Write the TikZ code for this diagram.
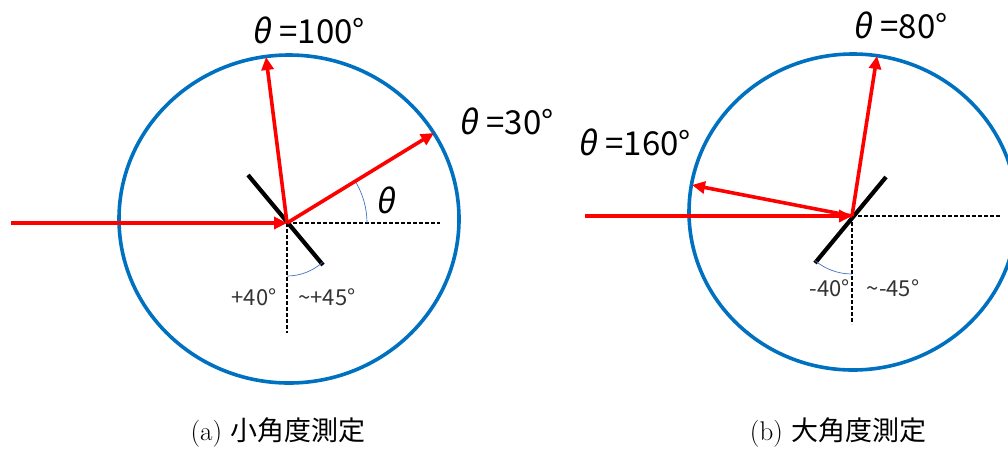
\documentclass[tikz,border=0pt]{standalone}
\usepackage{fontspec}
\newfontfamily\jp{Noto Sans CJK JP}
\newfontfamily\jpsl{Noto Sans CJK JP}[FakeSlant=0.18]
\usetikzlibrary{arrows.meta}
\definecolor{cblue}{HTML}{0070C0}
\definecolor{arcblue}{HTML}{4472C4}
\definecolor{beamred}{HTML}{FF0000}
\newcommand{\thsym}{{\jpsl θ}}
\newcommand{\wavetilde}{\char"007E\relax}
\tikzset{
  ring/.style={draw=cblue, line width=3.6pt},
  beam/.style={draw=beamred, line width=3.6pt, -{Triangle[length=13pt,width=12pt]}},
  mirror/.style={draw=black, line width=4.2pt},
  guide/.style={draw=black, line width=1.2pt, dash pattern=on 3.5pt off 2.5pt},
  anglearc/.style={draw=arcblue, line width=0.7pt},
  biglabel/.style={font=\jp\fontsize{33}{36}\selectfont, inner sep=0pt},
  smalllabel/.style={font=\jp\fontsize{22}{24}\selectfont, text=black!80, inner sep=0pt},
  caption/.style={font=\fontsize{27}{30}\selectfont, inner sep=0pt},
}
\begin{document}
\begin{tikzpicture}[x=1pt,y=-1pt]
\useasboundingbox (0,0) rectangle (1008,448);
\clip (0,0) rectangle (1008,448);
% ---------- (a) ----------
\coordinate (Ca) at (289,219);
\coordinate (Oa) at (287,223);
\coordinate (Sa) at (11,223);
\coordinate (Pa30) at (434,133);
\coordinate (Pa100) at (266,57);
\coordinate (Ma1) at (248,175);
\coordinate (Ma2) at (323,265);
\coordinate (Ha) at (440,223);
\coordinate (Va) at (287,333);
\draw[ring] (Ca) ellipse[x radius=170, y radius=164];
\draw[guide] (Oa) -- (Ha);
\draw[guide] (Oa) -- (Va);
\draw[mirror] (Ma1) -- (Ma2);
\draw[anglearc] (Oa) ++(80,0) arc[start angle=0, end angle=-31, radius=80];
\draw[anglearc] (Oa) ++(0,53) arc[start angle=90, end angle=48, radius=53];
\draw[beam] (Sa) -- (Oa);
\draw[beam] (Oa) -- (Pa30);
\draw[beam] (Oa) -- (Pa100);
\node[biglabel] (La100) at (308,30) {\thsym\hspace{0.28em}=100°};
\node[biglabel] (La30) at (506,121) {\thsym\hspace{0.28em}=30°};
\node[biglabel] (Lth) at (385,200) {\thsym};
\node[smalllabel] (La40) at (254,297) {+40°};
\node[smalllabel] (La45) at (327,297) {\wavetilde+45°};
\node[caption] (Capa) at (278,432) {(a) {\jp 小角度測定}};
% ---------- (b) ----------
\coordinate (Cb) at (853,212);
\coordinate (Ob) at (852,216);
\coordinate (Sb) at (585,216);
\coordinate (Pb80) at (877,56);
\coordinate (Pb160) at (692,185);
\coordinate (Mb1) at (886,177);
\coordinate (Mb2) at (815,263);
\coordinate (Hb) at (1001,216);
\coordinate (Vb) at (852,324);
\draw[ring] (Cb) ellipse[x radius=164, y radius=158];
\draw[guide] (Ob) -- (Hb);
\draw[guide] (Ob) -- (Vb);
\draw[mirror] (Mb1) -- (Mb2);
\draw[anglearc] (Ob) ++(0,58) arc[start angle=90, end angle=130, radius=58];
\draw[beam] (Sb) -- (Ob);
\draw[beam] (Ob) -- (Pb80);
\draw[beam] (Ob) -- (Pb160);
\node[biglabel] (Lb80) at (900,25) {\thsym\hspace{0.28em}=80°};
\node[biglabel] (Lb160) at (634,142) {\thsym\hspace{0.28em}=160°};
\node[smalllabel] (Lb40) at (830,288) {-40°};
\node[smalllabel] (Lb45) at (893,288) {\wavetilde-45°};
\node[caption] (Capb) at (838,432) {(b) {\jp 大角度測定}};
\end{tikzpicture}
\end{document}
